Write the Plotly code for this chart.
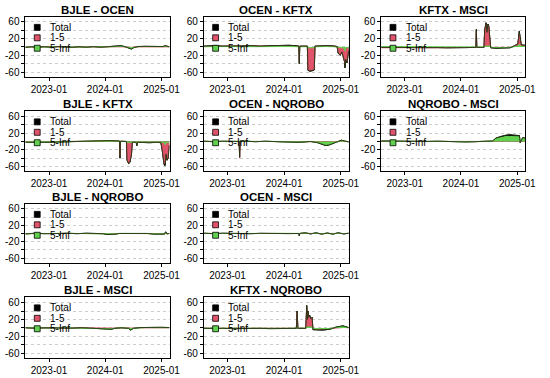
import plotly.graph_objects as go

# ---------------- data ----------------
TICK_DATES = ["2023-01-01", "2024-01-01", "2025-01-01"]
TICK_TEXT = ["2023-01", "2024-01", "2025-01"]
Y_TICKS = [-60, -40, -20, 0, 20, 40, 60]
Y_TICK_TEXT = ["-60", "", "-20", "", "20", "", "60"]
SERIES_NAMES = ["Total", "1-5", "5-Inf"]

A_dates = ["2022-08-01","2022-09-10","2022-10-20","2022-12-01","2023-01-15","2023-03-01","2023-04-15","2023-06-01","2023-07-15","2023-09-01","2023-10-15","2023-12-01","2024-01-15","2024-03-01","2024-04-05","2024-04-12","2024-05-10","2024-06-05","2024-06-20","2024-07-05","2024-08-01","2024-09-15","2024-11-01","2024-12-10","2025-01-10","2025-01-25","2025-02-20"]
A_total = [-1.0, 0.5, -0.8, 0.6, -0.5, 1.0, 0.2, -0.8, 0.4, -0.6, 0.8, -0.4, 0.6, 1.0, 1.5, 3.0, 0.5, -3.5, -5.0, -1.5, 1.0, 1.5, 0.8, 1.5, 1.0, 3.0, 0.5]
A_s15 = [-0.3, 0.2, -0.3, 0.2, -0.2, 0.4, 0.1, -0.3, 0.1, -0.2, 0.3, -0.1, 0.2, 0.4, 0.5, 1.0, 0.2, -1.0, -1.5, -0.5, 0.3, 0.5, 0.3, 0.5, 0.3, 1.0, 0.2]
A_s5 = [-0.7, 0.3, -0.5, 0.4, -0.3, 0.6, 0.1, -0.5, 0.3, -0.4, 0.5, -0.3, 0.4, 0.6, 1.0, 2.0, 0.3, -2.5, -3.5, -1.0, 0.7, 1.0, 0.5, 1.0, 0.7, 2.0, 0.3]

B_dates = ["2022-08-01","2022-10-01","2022-12-01","2023-02-01","2023-04-01","2023-06-01","2023-08-01","2023-10-01","2023-12-01","2024-02-01","2024-03-20","2024-04-05","2024-04-08","2024-04-11","2024-05-01","2024-05-30","2024-06-03","2024-06-15","2024-06-30","2024-07-14","2024-07-18","2024-08-15","2024-10-01","2024-11-15","2024-12-08","2024-12-15","2024-12-28","2025-01-08","2025-01-15","2025-01-25","2025-01-28","2025-02-01","2025-02-10","2025-02-20"]
B_total = [2, 3, 2, 3, 2.5, 3, 2, 3, 4, 4, 3, 2, -40, 2, 2, 2, -56, -58, -57, -55, 2, 3, 3, 2.5, 1, -15, -20, -12, -25, -35, -50, -30, -38, -10]
B_s15 = [1.5, 2, 1.5, 2, 2, 2, 1.5, 2, 3, 3, 2, 1.5, -35, 1.5, 1.5, 1.5, -54, -56, -55, -53, 1.5, 2, 2, 2, 0.5, -14, -19, -11, -22, -32, -40, -28, -36, -8]
B_s5 = [0.5, 1, 0.5, 1, 0.5, 1, 0.5, 1, 1, 1, 1, 0.5, -5, 0.5, 0.5, 0.5, -2, -2, -2, -2, 0.5, 1, 1, 0.5, 0.5, -1, -1, -1, -3, -3, -10, -2, -2, -2]

C_dates = ["2022-08-01","2022-10-01","2022-12-01","2023-02-01","2023-04-01","2023-06-01","2023-08-01","2023-10-01","2023-12-01","2024-02-01","2024-04-07","2024-04-10","2024-04-13","2024-05-30","2024-06-03","2024-06-12","2024-06-18","2024-06-24","2024-06-30","2024-07-04","2024-07-08","2024-07-12","2024-08-15","2024-10-01","2024-11-15","2024-12-15","2025-01-05","2025-01-14","2025-01-20","2025-01-27","2025-02-20"]
C_total = [-1, -0.5, -1, -1.5, -1, -2, -1.5, -2, -1, -1.5, -1, 42, -1, -1, 40, 58, 35, 55, 50, 30, 20, -2, -3, -3, -2, 3, 8, 38, 15, 5, 4]
C_s15 = [-2, -1.5, -2, -2, -1.5, -2, -1.5, -2, -1.5, -1.5, -1, 38, -1, -1, 38, 56, 33, 53, 48, 28, 18, -1, -1, -1, -1, 2, 6, 32, 13, 4, 3]
C_s5 = [1, 1, 1, 0.5, 0.5, 0, 0, 0, 0.5, 0, 0, 4, 0, 0, 2, 2, 2, 2, 2, 2, 2, -1, -2, -2, -1, 1, 2, 6, 2, 1, 1]

D_dates = ["2022-08-01","2022-10-01","2022-12-01","2023-02-01","2023-04-01","2023-06-01","2023-08-01","2023-10-01","2023-12-01","2024-02-01","2024-03-30","2024-04-03","2024-04-06","2024-04-09","2024-05-18","2024-05-22","2024-06-01","2024-06-10","2024-06-20","2024-06-25","2024-07-20","2024-07-25","2024-07-30","2024-09-01","2024-10-15","2024-12-01","2024-12-28","2025-01-05","2025-01-18","2025-01-24","2025-01-30","2025-02-06","2025-02-13","2025-02-20"]
D_total = [-2, -2.5, -2, -1.5, -1, 0.5, 1.5, 2, 2, 2, 1, 1, -40, 0.5, 0, -45, -53, -50, -30, -2, -2, -10, -2, -3, -3, -2, -3, -20, -56, -58, -30, -45, -40, -10]
D_s15 = [0, -0.5, 0, 0, 0, 0.5, 1, 1, 1, 1, 0.5, 0.5, -35, 0.3, 0, -43, -51, -48, -28, -1, -1, -8, -1, -1, -1, -1, -2, -18, -54, -50, -28, -42, -38, -8]
D_s5 = [-2, -2, -2, -1.5, -1, 0, 0.5, 1, 1, 1, 0.5, 0.5, -5, 0.2, 0, -2, -2, -2, -2, -1, -1, -2, -1, -2, -2, -1, -1, -2, -2, -8, -2, -3, -2, -2]

E_dates = ["2022-08-01","2022-10-01","2022-12-01","2023-02-01","2023-03-17","2023-03-20","2023-03-23","2023-05-01","2023-07-01","2023-09-01","2023-11-01","2024-01-01","2024-02-15","2024-04-01","2024-05-15","2024-06-20","2024-08-05","2024-09-01","2024-09-27","2024-10-20","2024-11-18","2024-12-15","2025-01-05","2025-01-25","2025-02-20"]
E_total = [0.5, -0.5, 0.5, 0, 0, -38, 0, 0.5, -0.5, 0.5, 0, -1.5, -2.5, -2, -1, 0, -3, -7, -10, -8, -4, -1, 3, 1, -1]
E_s15 = [0.2, -0.2, 0.2, 0, 0, -40, 0, 0.2, -0.2, 0.2, 0, -0.5, -0.5, -0.5, -0.3, 0, -0.5, -1, -1.5, -1, -0.5, -0.3, 1, 0.3, -0.3]
E_s5 = [0.3, -0.3, 0.3, 0, 0, 2, 0, 0.3, -0.3, 0.3, 0, -1, -2, -1.5, -0.7, 0, -2.5, -6, -8.5, -7, -3.5, -0.7, 2, 0.7, -0.7]

F_dates = ["2022-08-01","2022-10-01","2022-12-01","2023-02-01","2023-04-01","2023-06-01","2023-08-01","2023-10-01","2023-12-01","2024-02-01","2024-04-01","2024-06-01","2024-07-25","2024-08-15","2024-09-05","2024-09-27","2024-10-20","2024-11-15","2024-12-10","2025-01-05","2025-01-15","2025-01-20","2025-01-26","2025-02-05","2025-02-20"]
F_total = [1, 0.5, 1, -0.5, 0.5, 0, 0.5, -0.5, 0, -1, -0.5, 0.5, 1, 8, 11, 13, 15, 16, 15, 15, 14, -3, 2, 9, 8]
F_s15 = [0.3, 0.2, 0.3, -0.2, 0.2, 0, 0.2, -0.2, 0, -0.3, -0.2, 0.2, 0, 1, 2, 3, 3, 4, 3, 3, 3, -1, 0, 1, 1]
F_s5 = [0.7, 0.3, 0.7, -0.3, 0.3, 0, 0.3, -0.3, 0, -0.7, -0.3, 0.3, 1, 7, 9, 10, 12, 12, 12, 12, 11, -2, 2, 8, 7]

G_dates = ["2022-08-01","2022-10-01","2022-12-01","2023-02-01","2023-03-07","2023-03-10","2023-03-13","2023-05-01","2023-07-01","2023-09-01","2023-11-01","2023-12-20","2024-01-10","2024-02-01","2024-02-25","2024-04-01","2024-06-01","2024-08-01","2024-10-01","2024-11-15","2024-12-20","2025-01-20","2025-01-28","2025-02-05","2025-02-20"]
G_total = [-1, 0.5, -0.5, 0.5, 0, -6, 0, 0.5, -0.5, 0.5, 0, -0.5, -2.5, -3, -2, 0, 0.5, -0.5, 0, -1.5, -2, -1.5, 4, -1, 0]
G_s15 = [-0.3, 0.2, -0.2, 0.2, 0, -2, 0, 0.2, -0.2, 0.2, 0, -0.2, -1, -1, -0.7, 0, 0.2, -0.2, 0, -0.5, -0.7, -0.5, 1.5, -0.3, 0]
G_s5 = [-0.7, 0.3, -0.3, 0.3, 0, -4, 0, 0.3, -0.3, 0.3, 0, -0.3, -1.5, -2, -1.3, 0, 0.3, -0.3, 0, -1, -1.3, -1, 2.5, -0.7, 0]

H_dates = ["2022-08-01","2022-10-01","2022-12-01","2023-02-01","2023-04-01","2023-06-01","2023-08-01","2023-10-01","2023-12-01","2024-02-01","2024-04-05","2024-04-08","2024-04-11","2024-05-15","2024-06-20","2024-07-25","2024-08-30","2024-10-05","2024-11-10","2024-12-15","2025-01-20","2025-02-20"]
H_total = [0.5, -0.5, 0.5, -0.3, 0.3, -0.5, 0.3, -0.3, 0.5, -0.3, 0, -6, 0, 1.5, -1, 1.5, -1.5, 1, -1.5, 1.5, -1, 0.5]
H_s15 = [0.2, -0.2, 0.2, -0.1, 0.1, -0.2, 0.1, -0.1, 0.2, -0.1, 0, -2, 0, 0.5, -0.3, 0.5, -0.5, 0.3, -0.5, 0.5, -0.3, 0.2]
H_s5 = [0.3, -0.3, 0.3, -0.2, 0.2, -0.3, 0.2, -0.2, 0.3, -0.2, 0, -4, 0, 1, -0.7, 1, -1, 0.7, -1, 1, -0.7, 0.3]

I_dates = ["2022-08-01","2022-10-01","2022-12-01","2023-02-01","2023-04-01","2023-06-01","2023-08-01","2023-10-01","2023-12-01","2024-01-15","2024-02-10","2024-03-01","2024-04-15","2024-06-01","2024-06-15","2024-07-01","2024-08-15","2024-10-01","2024-11-15","2025-01-01","2025-02-20"]
I_total = [0.5, -0.5, 0.3, -0.5, 0.5, -0.3, 0.5, -0.5, 0, -2.5, -3, -1, 0.5, -1, -5, -1, 1, 1.5, 1, 1.5, 1]
I_s15 = [0.2, -0.2, 0.1, -0.2, 0.2, -0.1, 0.2, -0.2, 0, -1, -1, -0.3, 0.2, -0.3, -1.5, -0.3, 0.3, 0.5, 0.3, 0.5, 0.3]
I_s5 = [0.3, -0.3, 0.2, -0.3, 0.3, -0.2, 0.3, -0.3, 0, -1.5, -2, -0.7, 0.3, -0.7, -3.5, -0.7, 0.7, 1, 0.7, 1, 0.7]

J_dates = ["2022-08-01","2022-10-01","2022-12-01","2023-02-01","2023-04-01","2023-06-01","2023-08-01","2023-10-01","2023-12-01","2024-02-01","2024-03-20","2024-03-25","2024-03-30","2024-05-20","2024-05-26","2024-05-30","2024-06-04","2024-06-08","2024-06-14","2024-06-22","2024-06-30","2024-07-05","2024-08-01","2024-09-01","2024-10-01","2024-11-01","2024-12-01","2024-12-25","2025-01-15","2025-02-01","2025-02-20"]
J_total = [-1, -0.5, -1, -1.5, -1, -0.5, -1, -1.5, -1, -1, -1, 40, -1, -1, 53, 20, 40, 25, 30, 22, 25, -4, -5, -5, -4, -2, 2, 4, 5, 3, 1]
J_s15 = [-0.5, -0.3, -0.5, -0.7, -0.5, -0.2, -0.5, -0.7, -0.5, -0.5, -0.5, 37, -0.5, -0.5, 50, 18, 38, 23, 28, 20, 23, -2, -3, -3, -2, -1, 0.5, 1, 1, 1, 0.3]
J_s5 = [-0.5, -0.2, -0.5, -0.8, -0.5, -0.3, -0.5, -0.8, -0.5, -0.5, -0.5, 3, -0.5, -0.5, 3, 2, 2, 2, 2, 2, 2, -2, -2, -2, -2, -1, 1.5, 3, 4, 2, 0.7]

# panel: title, dates, total, 1-5, 5-Inf, row, col
PANELS = [
    ("BJLE - OCEN", A_dates, A_total, A_s15, A_s5, 0, 0),
    ("OCEN - KFTX", B_dates, B_total, B_s15, B_s5, 0, 1),
    ("KFTX - MSCI", C_dates, C_total, C_s15, C_s5, 0, 2),
    ("BJLE - KFTX", D_dates, D_total, D_s15, D_s5, 1, 0),
    ("OCEN - NQROBO", E_dates, E_total, E_s15, E_s5, 1, 1),
    ("NQROBO - MSCI", F_dates, F_total, F_s15, F_s5, 1, 2),
    ("BJLE - NQROBO", G_dates, G_total, G_s15, G_s5, 2, 0),
    ("OCEN - MSCI", H_dates, H_total, H_s15, H_s5, 2, 1),
    ("BJLE - MSCI", I_dates, I_total, I_s15, I_s5, 3, 0),
    ("KFTX - NQROBO", J_dates, J_total, J_s15, J_s5, 3, 1),
]

# ---------------- layout/style ----------------
W, H = 550, 378
COL_X = [(26, 173), (208, 356), (389, 536)]
ROW_Y = [(16, 76), (111, 171), (204, 263), (298, 359)]
COLORS = ["#000000", "#DF536B", "#61D04F"]
FONT = "Liberation Sans, Arial, sans-serif"
X_RANGE = ["2022-08-01", "2025-02-22"]
Y_RANGE = [-71, 72]

def px(x):
    return x / W

def py(y):
    return 1 - y / H

fig = go.Figure()
annotations = []
shapes = []

for i, (title, dates, tot, s15, s5, r, c) in enumerate(PANELS):
    n = "" if i == 0 else str(i + 1)
    xref, yref = "x" + n, "y" + n
    for k, vals in enumerate([tot, s15, s5]):
        fig.add_trace(go.Scatter(
            x=dates, y=vals, mode="lines", fill="tozeroy",
            line=dict(color=COLORS[k], width=1),
            fillcolor=COLORS[k], name=SERIES_NAMES[k],
            showlegend=False, xaxis=xref, yaxis=yref, hoverinfo="skip"))
    # total outline drawn again on top
    fig.add_trace(go.Scatter(
        x=dates, y=tot, mode="lines", line=dict(color="#22330f", width=0.9),
        showlegend=False, xaxis=xref, yaxis=yref, hoverinfo="skip"))
    x0, x1 = COL_X[c]
    y0, y1 = ROW_Y[r]
    fig.layout["xaxis" + n] = dict(
        domain=[px(x0), px(x1)], anchor=yref, type="date", range=X_RANGE,
        tickmode="array", tickvals=TICK_DATES, ticktext=TICK_TEXT,
        ticks="outside", ticklen=3, tickcolor="black",
        showline=True, mirror=True, linecolor="black", linewidth=1,
        showgrid=False, zeroline=False, fixedrange=True,
        tickfont=dict(size=10, color="black", family=FONT))
    fig.layout["yaxis" + n] = dict(
        domain=[py(y1), py(y0)], anchor=xref, range=Y_RANGE,
        tickmode="array", tickvals=Y_TICKS, ticktext=Y_TICK_TEXT,
        ticks="outside", ticklen=3, tickcolor="black",
        showline=True, mirror=True, linecolor="black", linewidth=1,
        showgrid=True, gridcolor="#CCCCCC", griddash="3px,3px", gridwidth=1,
        zeroline=False, fixedrange=True,
        tickfont=dict(size=10, color="black", family=FONT))
    # title
    annotations.append(dict(
        x=px((x0 + x1) / 2), y=py(y0 - 7), xref="paper", yref="paper",
        text="<b>%s</b>" % title, showarrow=False, xanchor="center",
        yanchor="middle", font=dict(size=11.5, color="black", family=FONT)))
    # legend inside panel
    for k, name in enumerate(SERIES_NAMES):
        cy = y0 + 10.5 + 10.5 * k
        shapes.append(dict(
            type="rect", xref="paper", yref="paper",
            x0=px(x0 + 9), x1=px(x0 + 15), y0=py(cy + 3), y1=py(cy - 3),
            fillcolor=COLORS[k], line=dict(color="black", width=0.8), layer="above"))
        annotations.append(dict(
            x=px(x0 + 23), y=py(cy), xref="paper", yref="paper",
            text=name, showarrow=False, xanchor="left", yanchor="middle",
            font=dict(size=10, color="black", family=FONT)))

fig.update_layout(
    width=W, height=H, margin=dict(l=0, r=0, t=0, b=0),
    paper_bgcolor="white", plot_bgcolor="white", hovermode=False,
    showlegend=False, annotations=annotations, shapes=shapes,
    font=dict(family=FONT, color="black"))

fig.write_html("out.html", config={"displayModeBar": False, "staticPlot": True},
               post_script="document.body.style.margin='0';document.body.style.overflow='hidden';")
